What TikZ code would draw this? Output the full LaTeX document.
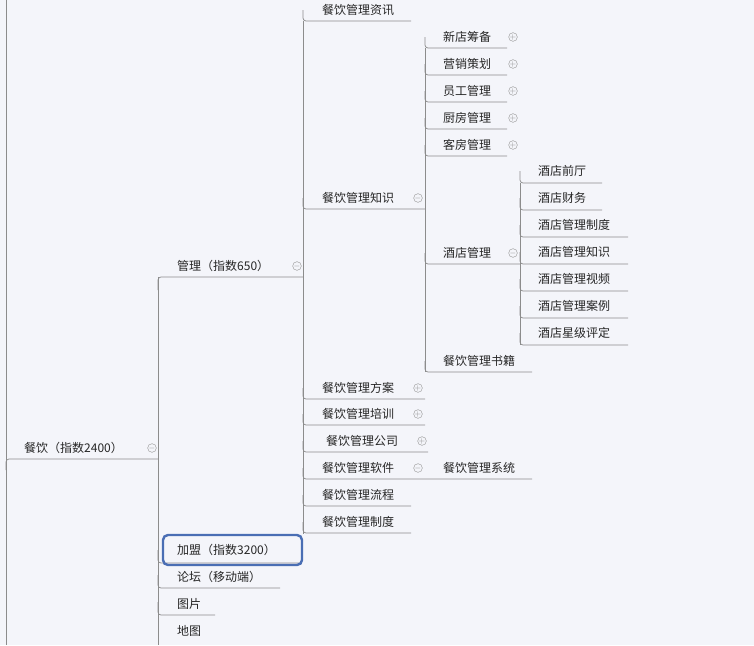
\documentclass[tikz,border=0pt]{standalone}
\usepackage{fontspec}
\setmainfont{Noto Sans CJK SC}
\usetikzlibrary{positioning}
\definecolor{bg}{HTML}{F4F5FA}
\definecolor{linegray}{HTML}{8C8C8C}
\definecolor{selblue}{HTML}{4A6EB4}
\tikzset{
  topic/.style={anchor=west, inner sep=0pt, font=\fontsize{12}{14}\selectfont, text=black!85},
  branch/.style={draw=linegray, line width=0.7pt, rounded corners=3pt},
  fold/.style={circle, draw=linegray!80, line width=0.5pt, minimum size=8pt, inner sep=0pt, font=\fontsize{8}{8}\selectfont, text=linegray}
}
\begin{document}
\begin{tikzpicture}[x=1pt, y=-1pt]
  \fill[bg] (0,0) rectangle (754,645);
  \useasboundingbox (0,0) rectangle (754,645);

  % Root
  \draw[branch] (6,0) -- (6,645);
  \node[topic] (root) at (24,448) {餐饮（指数2400）};
  \draw[branch] (6,470) |- (158,459);
  \node[fold] (rootfold) at (152,448) {$-$};

  % Level 1
  \draw[branch] (158,277) -- (158,645);
  \node[topic] (mgmt) at (177,266) {管理（指数650）};
  \node[fold] (mgmtfold) at (297,266) {$-$};
  \draw[branch] (158,290) |- (303,277);
  \draw[branch] (158,550) |- (300,563);
  \node[topic] (join) at (177,550) {加盟（指数3200）};
  \draw[selblue, line width=2.4pt, rounded corners=5pt] (163,535) rectangle (302,565);
  \foreach \name/\yt/\txt in {forum/577/论坛（移动端）, pics/604/图片, maps/631/地图}{
    \node[topic] (\name) at (177,\yt) {\txt};
  }
  \draw[branch] (158,575) |- (280,588);
  \draw[branch] (158,602) |- (215,615);

  % Level 2
  \draw[branch] (303,21) -- (303,534);
  \foreach \name/\yt/\xe/\txt in {news/10/411/餐饮管理资讯, know/198/425/餐饮管理知识,
      plan/388/425/餐饮管理方案, train/414/425/餐饮管理培训, soft/468/532/餐饮管理软件,
      flow/495/411/餐饮管理流程, rule/522/411/餐饮管理制度}{
    \node[topic] (\name) at (322,\yt) {\txt};
    \draw[branch] (303,\yt) |- (\xe,\yt+11);
  }
  \node[topic] (comp) at (326,441) {餐饮管理公司};
  \draw[branch] (303,441) |- (428,452);
  \node[topic] (sys) at (443,468) {餐饮管理系统};
  \node[fold] at (418,198) {$-$};
  \node[fold] at (418,388) {$+$};
  \node[fold] at (418,414) {$+$};
  \node[fold] at (422,441) {$+$};
  \node[fold] at (418,468) {$-$};

  % Level 3
  \draw[branch] (425,48) -- (425,372);
  \foreach \name/\yt/\xe/\txt/\sign in {newshop/37/507/新店筹备/+, market/64/507/营销策划/+,
      staff/91/507/员工管理/+, kitchen/118/507/厨房管理/+, room/145/507/客房管理/+,
      hotel/253/520/酒店管理/-}{
    \node[topic] (\name) at (443,\yt) {\txt};
    \draw[branch] (425,\yt) |- (\xe,\yt+11);
    \node[fold] at (513,\yt) {$\sign$};
  }
  \node[topic] (books) at (443,361) {餐饮管理书籍};
  \draw[branch] (425,361) |- (532,372);

  % Level 4
  \draw[branch] (520,183) -- (520,345);
  \foreach \name/\yt/\xe/\txt in {lobby/171/602/酒店前厅, finance/198/602/酒店财务,
      hrule/225/628/酒店管理制度, hknow/252/628/酒店管理知识, video/279/628/酒店管理视频,
      cases/306/628/酒店管理案例, stars/333/628/酒店星级评定}{
    \node[topic] (\name) at (538,\yt) {\txt};
    \draw[branch] (520,\yt) |- (\xe,\yt+12);
  }
\end{tikzpicture}
\end{document}
